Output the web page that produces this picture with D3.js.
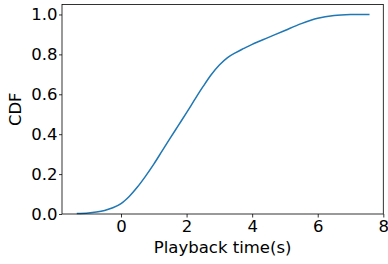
<!DOCTYPE html>
<html>
<head>
<meta charset="utf-8">
<script src="https://cdn.jsdelivr.net/npm/d3@7"></script>
<style>
  body { margin: 0; background: #fff; }
  text { font-family: "DejaVu Sans", sans-serif; fill: #000; }
</style>
</head>
<body>
<svg id="chart" width="388" height="264"></svg>
<script>
// CDF of playback time
const playbackTime = [-1.35, -1.0, -0.75, -0.5, -0.25, 0, 0.25, 0.5, 0.75, 1.0, 1.25, 1.5, 1.75, 2.0,
  2.25, 2.5, 2.75, 3.0, 3.25, 3.5, 3.75, 4.0, 4.5, 5.0, 5.5, 6.0, 6.5, 7.0, 7.58];
const cdfValues = [0.002, 0.005, 0.01, 0.018, 0.031, 0.052, 0.088, 0.135, 0.19, 0.25, 0.315, 0.38, 0.444, 0.508,
  0.574, 0.638, 0.698, 0.747, 0.784, 0.809, 0.83, 0.85, 0.885, 0.92, 0.954, 0.981, 0.995, 1.0, 1.0];
const xTicks = [0, 2, 4, 6, 8];
const yTicks = [0.0, 0.2, 0.4, 0.6, 0.8, 1.0];

const svg = d3.select("#chart");
const margin = { top: 4.5, left: 62 };
const innerWidth = 383.3 - margin.left;
const innerHeight = 214 - margin.top;
const fontSize = 16.5;

const g = svg.append("g")
  .attr("transform", `translate(${margin.left},${margin.top})`);

const x = d3.scaleLinear().domain([-1.8, 8]).range([0, innerWidth]);
const y = d3.scaleLinear().domain([0, 1.05]).range([innerHeight, 0]);

const points = playbackTime.map((t, i) => ({ t, c: cdfValues[i] }));

const line = d3.line()
  .x(d => x(d.t))
  .y(d => y(d.c))
  .curve(d3.curveCatmullRom.alpha(0.5));

g.append("path")
  .datum(points)
  .attr("fill", "none")
  .attr("stroke", "#1f77b4")
  .attr("stroke-width", 1.5)
  .attr("d", line);

// axes
const xAxis = g.append("g")
  .attr("transform", `translate(0,${innerHeight})`)
  .call(d3.axisBottom(x).tickValues(xTicks).tickFormat(d3.format("d")).tickSize(3.5).tickPadding(3));

const yAxis = g.append("g")
  .call(d3.axisLeft(y).tickValues(yTicks).tickFormat(d3.format(".1f")).tickSize(3).tickPadding(1.5));

[xAxis, yAxis].forEach(a => {
  a.select(".domain").remove();
  a.selectAll("line").attr("stroke", "#000").attr("stroke-width", 0.8);
  a.selectAll("text")
    .attr("font-size", fontSize)
    .attr("font-family", "DejaVu Sans, sans-serif")
    .attr("fill", "#000");
});

// frame
g.append("rect")
  .attr("x", 0)
  .attr("y", 0)
  .attr("width", innerWidth)
  .attr("height", innerHeight)
  .attr("fill", "none")
  .attr("stroke", "#000")
  .attr("stroke-width", 0.8);

// labels
svg.append("text")
  .attr("x", margin.left + x(3.1))
  .attr("y", 253)
  .attr("text-anchor", "middle")
  .attr("font-size", fontSize)
  .text("Playback time(s)");

svg.append("text")
  .attr("transform", `translate(21,${margin.top + innerHeight / 2}) rotate(-90)`)
  .attr("text-anchor", "middle")
  .attr("font-size", fontSize)
  .text("CDF");
</script>
</body>
</html>
